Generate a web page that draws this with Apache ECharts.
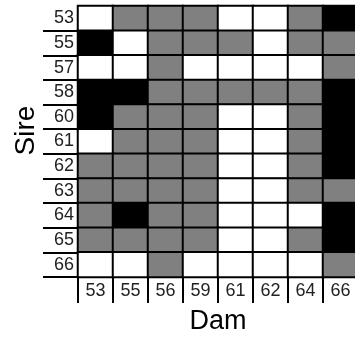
<!DOCTYPE html>
<html>
<head>
<meta charset="utf-8">
<script src="https://cdn.jsdelivr.net/npm/echarts@6/dist/echarts.min.js"></script>
<style>
	html, body { margin: 0; padding: 0; background: #fff; }
	#A { width: 355px; height: 337px; }
</style>
</head>
<body>
<div id="A"></div>
<script>
// 0 = white, 1 = gray, 2 = black
var damLabels = ["53", "55", "56", "59", "61", "62", "64", "66"];
var sireLabels = ["53", "55", "57", "58", "60", "61", "62", "63", "64", "65", "66"];
var row53 = [0, 1, 1, 1, 0, 0, 1, 2];
var row55 = [2, 0, 1, 1, 1, 0, 1, 1];
var row57 = [0, 0, 1, 0, 0, 0, 0, 1];
var row58 = [2, 2, 1, 1, 1, 1, 1, 2];
var row60 = [2, 1, 1, 1, 0, 0, 1, 2];
var row61 = [0, 1, 1, 1, 0, 0, 1, 2];
var row62 = [1, 1, 1, 1, 0, 0, 1, 2];
var row63 = [1, 1, 1, 1, 0, 0, 1, 1];
var row64 = [1, 2, 1, 1, 0, 0, 0, 2];
var row65 = [1, 1, 1, 1, 0, 0, 1, 2];
var row66 = [0, 0, 1, 0, 0, 0, 0, 1];
var rows = [row53, row55, row57, row58, row60, row61, row62, row63, row64, row65, row66];

function Heat(dom) {
	var myChart = echarts.init(dom, null, {
		renderer: "canvas",
		useDirtyRect: false
	});
	var data = [];
	rows.forEach(function (r, y) {
		r.forEach(function (v, x) {
			data.push([x, y, v]);
		});
	});
	var font = "Arial, 'Liberation Sans', sans-serif";
	var option = {
		animation: false,
		grid: { left: 78, top: 6, width: 280, height: 271, outerBoundsMode: "none", containLabel: false },
		xAxis: {
			type: "category",
			data: damLabels,
			name: "Dam",
			nameLocation: "middle",
			nameGap: 31,
			nameTextStyle: { fontSize: 27, color: "#000", fontFamily: font },
			axisLine: { show: true, lineStyle: { color: "#000", width: 2 } },
			axisTick: { show: true, length: 26, lineStyle: { color: "#000", width: 2 } },
			axisLabel: { fontSize: 18, color: "#222", margin: 5, fontFamily: font },
			splitLine: { show: false }
		},
		yAxis: {
			type: "category",
			data: sireLabels,
			inverse: true,
			name: "Sire",
			nameLocation: "middle",
			nameGap: 38,
			nameRotate: 90,
			nameTextStyle: { fontSize: 28, color: "#000", fontFamily: font, padding: [0, 0, 0, 22] },
			axisLine: { show: true, lineStyle: { color: "#000", width: 2 } },
			axisTick: {
				show: true,
				length: 35,
				interval: function (i) { return i !== 0; },
				lineStyle: { color: "#000", width: 2 }
			},
			axisLabel: { fontSize: 18, color: "#222", margin: 4, fontFamily: font },
			splitLine: { show: false }
		},
		visualMap: {
			show: false,
			type: "piecewise",
			dimension: 2,
			pieces: [
				{ value: 0, color: "#ffffff" },
				{ value: 1, color: "#808080" },
				{ value: 2, color: "#000000" }
			]
		},
		series: [
			{
				type: "heatmap",
				data: data,
				itemStyle: { borderColor: "#000", borderWidth: 2 },
				emphasis: { disabled: true }
			}
		]
	};
	myChart.setOption(option);
	window.addEventListener("resize", myChart.resize);
}

Heat(document.querySelector("#A"));
</script>
</body>
</html>
